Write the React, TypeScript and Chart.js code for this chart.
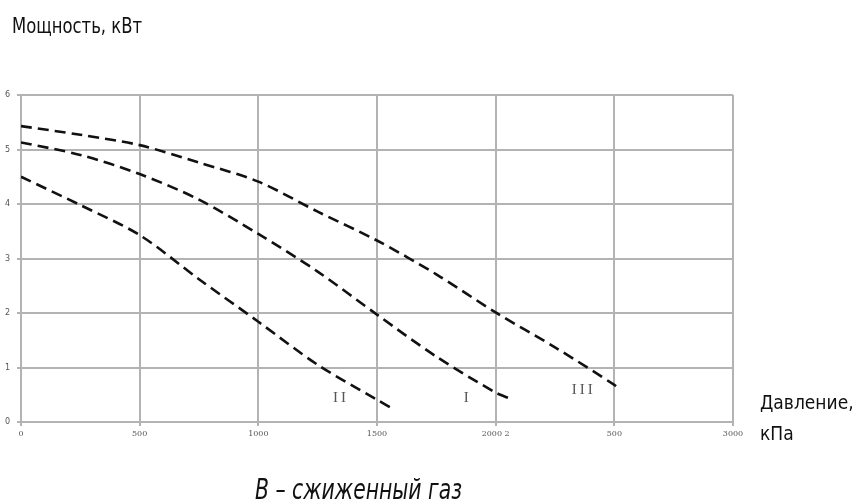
import React, { useEffect, useRef } from "react";
import { Chart, registerables } from "chart.js";

Chart.register(...registerables);

// ---- data ----
const pressureIII = [0, 250, 500, 750, 1000, 1250, 1500, 1750, 2000, 2250, 2500, 2524];
const powerIII = [5.43, 5.27, 5.08, 4.76, 4.41, 3.86, 3.33, 2.71, 2.01, 1.37, 0.68, 0.58];

const pressureI = [0, 250, 500, 750, 1000, 1250, 1500, 1750, 2000, 2066];
const powerI = [5.13, 4.9, 4.55, 4.08, 3.45, 2.76, 1.97, 1.2, 0.54, 0.42];

const pressureII = [0, 250, 500, 750, 1000, 1250, 1500, 1564];
const powerII = [4.5, 3.98, 3.43, 2.62, 1.84, 1.05, 0.41, 0.25];

const xTickValues = [0, 500, 1000, 1500, 2000, 2500, 3000];
const xTickLabels = ["0", "500", "1000", "1500", "2000 2", "500", "3000"];
const yTickLabels = ["0", "1", "2", "3", "4", "5", "6"];

const curveNames = ["II", "I", "III"];
const curveNameX = [1348, 1882, 2371];
const curveNameY = [0.44, 0.44, 0.59];

const yTitle = "Мощность, кВт";
const xTitleLine1 = "Давление,";
const xTitleLine2 = "кПа";
const caption = "В – сжиженный газ";

const GRID = "#b3b3b3";
const CONDENSED = "'Liberation Sans Narrow', 'DejaVu Sans Condensed', 'Roboto Condensed', sans-serif";

function toPoints(xs: number[], ys: number[]) {
  return xs.map((x, i) => ({ x, y: ys[i] }));
}

const curveLabelPlugin = {
  id: "curveLabels",
  afterDatasetsDraw(chart: any) {
    const { ctx, scales } = chart;
    ctx.save();
    ctx.font = '15px "Liberation Serif", "DejaVu Serif", serif';
    ctx.fillStyle = "#555";
    ctx.textAlign = "center";
    ctx.textBaseline = "middle";
    try {
      (ctx as any).letterSpacing = "3px";
    } catch (e) {}
    curveNames.forEach((name, i) => {
      const px = scales.x.getPixelForValue(curveNameX[i]);
      const py = scales.y.getPixelForValue(curveNameY[i]);
      ctx.fillText(name, px, py);
    });
    ctx.restore();
  },
};

export default function App() {
  const canvasRef = useRef<HTMLCanvasElement | null>(null);

  useEffect(() => {
    document.body.style.margin = "0";
    const canvas = canvasRef.current;
    if (!canvas) return;
    const dashed = {
      borderColor: "#111",
      borderWidth: 2.6,
      borderDash: [11, 6],
      pointRadius: 0,
      fill: false,
      tension: 0.3,
    };
    const chart = new Chart(canvas, {
      type: "line",
      data: {
        datasets: [
          { label: "III", data: toPoints(pressureIII, powerIII), ...dashed },
          { label: "I", data: toPoints(pressureI, powerI), ...dashed },
          { label: "II", data: toPoints(pressureII, powerII), ...dashed },
        ],
      },
      options: {
        animation: false,
        responsive: false,
        maintainAspectRatio: false,
        layout: { padding: { left: 0, right: 119, top: 95, bottom: 0 } },
        plugins: {
          legend: { display: false },
          tooltip: { enabled: false },
          title: { display: false },
        },
        scales: {
          x: {
            type: "linear",
            min: 0,
            max: 3000,
            afterFit: (s: any) => {
              s.height = 81;
            },
            afterBuildTicks: (s: any) => {
              s.ticks = xTickValues.map((v) => ({ value: v }));
            },
            ticks: {
              autoSkip: false,
              maxRotation: 0,
              padding: 3,
              color: "#555",
              font: { family: "'DejaVu Serif', 'Liberation Serif', serif", size: 8 },
              callback: (v: any) => {
                const i = xTickValues.indexOf(Number(v));
                return i >= 0 ? xTickLabels[i] : "";
              },
            },
            grid: { color: GRID, lineWidth: 2, tickLength: 4 },
            border: { color: GRID, width: 2 },
          },
          y: {
            type: "linear",
            min: 0,
            max: 6,
            afterFit: (s: any) => {
              s.width = 21;
            },
            ticks: {
              stepSize: 1,
              padding: 7,
              color: "#555",
              font: { family: "'DejaVu Sans', Verdana, sans-serif", size: 8 },
              callback: (v: any) => yTickLabels[Number(v)] ?? "",
            },
            grid: { color: GRID, lineWidth: 2, tickLength: 4 },
            border: { color: GRID, width: 2 },
          },
        },
      },
      plugins: [curveLabelPlugin],
    });
    return () => chart.destroy();
  }, []);

  return (
    <div style={{ position: "absolute", left: 0, top: 0, width: 852, height: 503, background: "#fff", overflow: "hidden" }}>
      <canvas ref={canvasRef} width={852} height={503} style={{ position: "absolute", left: 0, top: 0, width: 852, height: 503 }} />
      <div style={{ position: "absolute", left: 12, top: 14, fontFamily: CONDENSED, fontSize: 21, lineHeight: "24px", color: "#111", whiteSpace: "nowrap", transform: "scaleX(0.87)", transformOrigin: "0 0" }}>
        {yTitle}
      </div>
      <div style={{ position: "absolute", left: 760, top: 387, fontFamily: CONDENSED, fontSize: 19, lineHeight: "31px", color: "#111", whiteSpace: "nowrap" }}>
        <div>{xTitleLine1}</div>
        <div>{xTitleLine2}</div>
      </div>
      <div style={{ position: "absolute", left: 255, top: 472, fontFamily: CONDENSED, fontStyle: "italic", fontSize: 29, lineHeight: "34px", color: "#111", whiteSpace: "nowrap", transform: "scaleX(0.78)", transformOrigin: "0 0" }}>
        {caption}
      </div>
    </div>
  );
}
